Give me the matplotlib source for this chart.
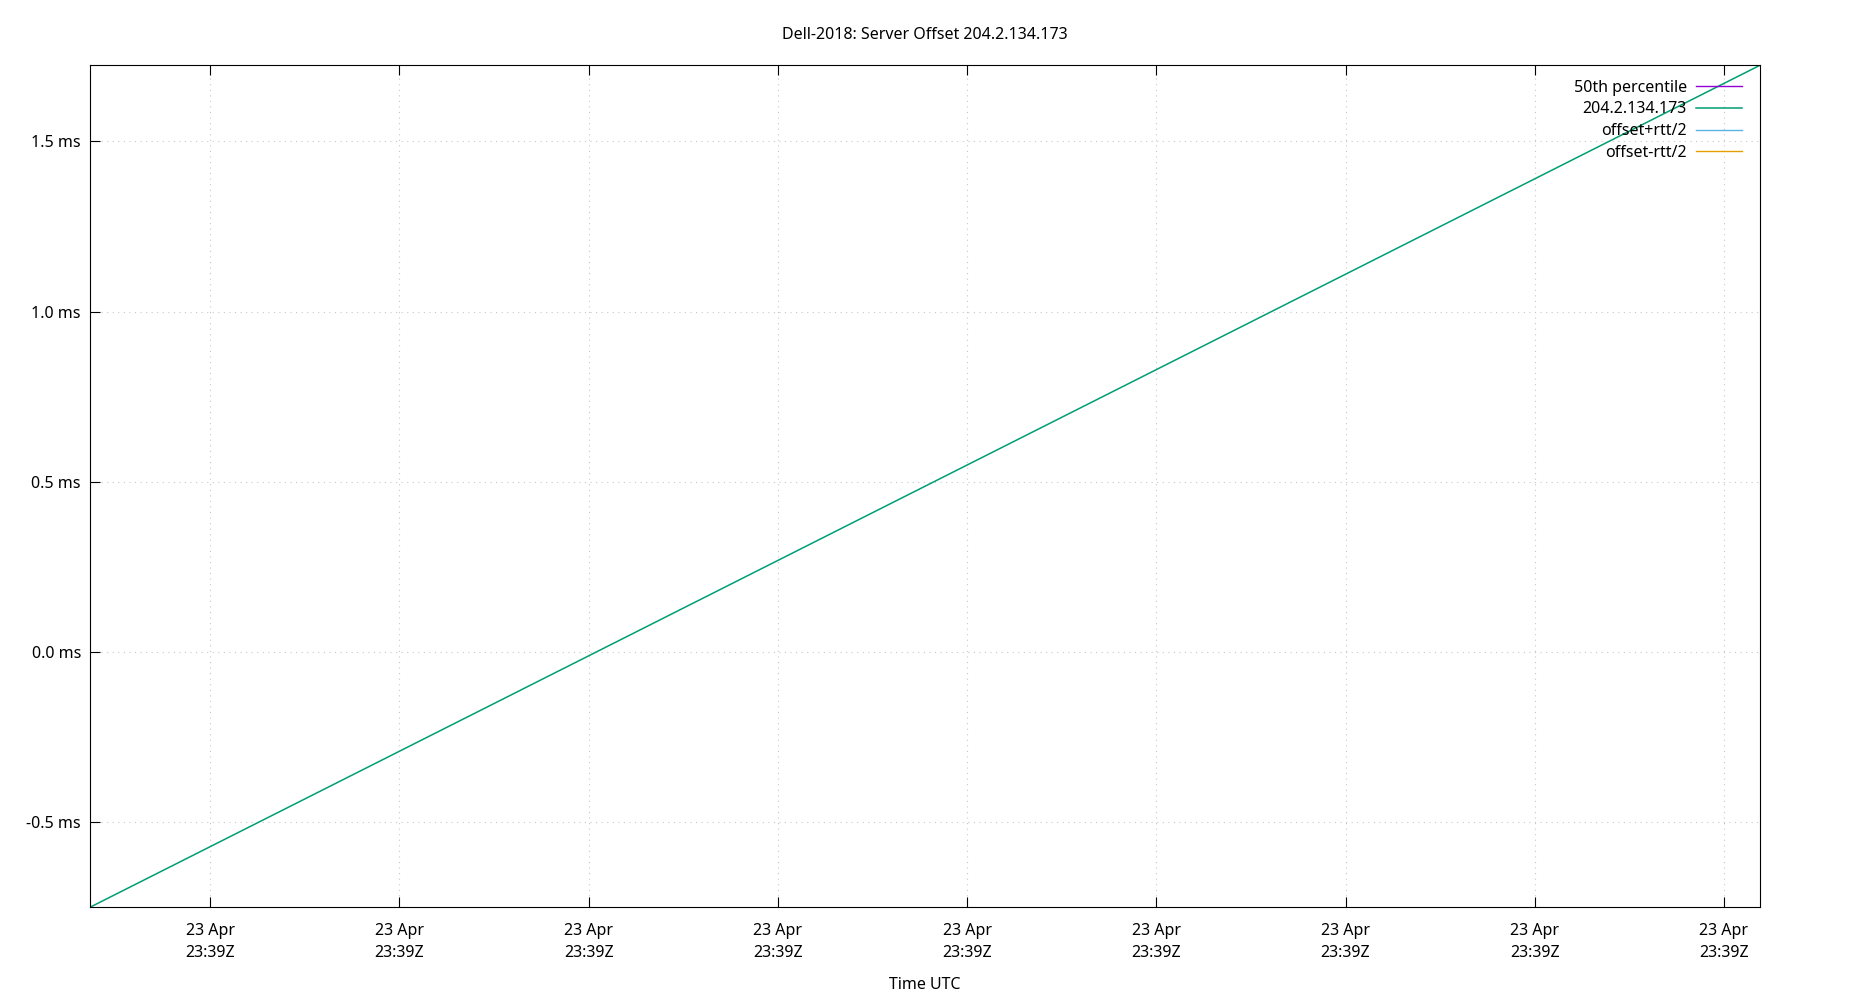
import matplotlib
matplotlib.use('Agg')
import matplotlib.pyplot as plt
import matplotlib.dates as mdates
from datetime import datetime

plt.rcParams['font.family'] = ['Noto Sans', 'DejaVu Sans']
plt.rcParams['font.size'] = 11.5

# data (offset in ms)
times = [datetime(2018, 4, 23, 23, 39, 1, 820000), datetime(2018, 4, 23, 23, 39, 45, 950000)]
offset = [-0.752, 1.724]
labels = ['50th percentile', '204.2.134.173', 'offset+rtt/2', 'offset-rtt/2']
colors = ['#9400d3', '#009e73', '#56b4e9', '#e69f00']

fig = plt.figure(figsize=(18.5, 10), dpi=100)
ax = fig.add_axes([0.0486, 0.0927, 0.9027, 0.842])

ax.plot([], [], color=colors[0], linewidth=1, label=labels[0])
ax.plot(times, offset, color=colors[1], linewidth=1.1, label=labels[1])
ax.plot([], [], color=colors[2], linewidth=1, label=labels[2])
ax.plot([], [], color=colors[3], linewidth=1, label=labels[3])

ax.set_xlim(times[0], times[1])
ax.set_ylim(offset[0], offset[1])

ax.xaxis.set_major_locator(mdates.SecondLocator(bysecond=range(5, 60, 5)))
ax.xaxis.set_major_formatter(mdates.DateFormatter('%d %b\n%H:%MZ'))
ax.yaxis.set_major_locator(plt.MultipleLocator(0.5))
ax.yaxis.set_major_formatter(plt.FormatStrFormatter('%.1f ms'))

ax.tick_params(axis='x', direction='in', length=7, width=0.8, top=True, pad=11.5)
ax.tick_params(axis='y', direction='in', length=7, width=0.8, right=False, pad=6.5)
for s in ax.spines.values():
    s.set_linewidth(0.8)

ax.grid(True, color='#c8c8c8', linestyle=(0, (1, 4)), linewidth=0.8)

ax.set_title('Dell-2018: Server Offset 204.2.134.173', fontsize=11.5, pad=19)
ax.set_xlabel('Time UTC', labelpad=11)

ax.legend(loc='upper right', bbox_to_anchor=(0.9892, 0.983), frameon=False, markerfirst=False,
          handlelength=2.88, handletextpad=0.56, labelspacing=0.36, borderaxespad=0, borderpad=0)

fig.canvas.draw()
for lbl in ax.get_xticklabels():
    lbl.set_linespacing(1.5)

fig.savefig('out.png', dpi=100)
